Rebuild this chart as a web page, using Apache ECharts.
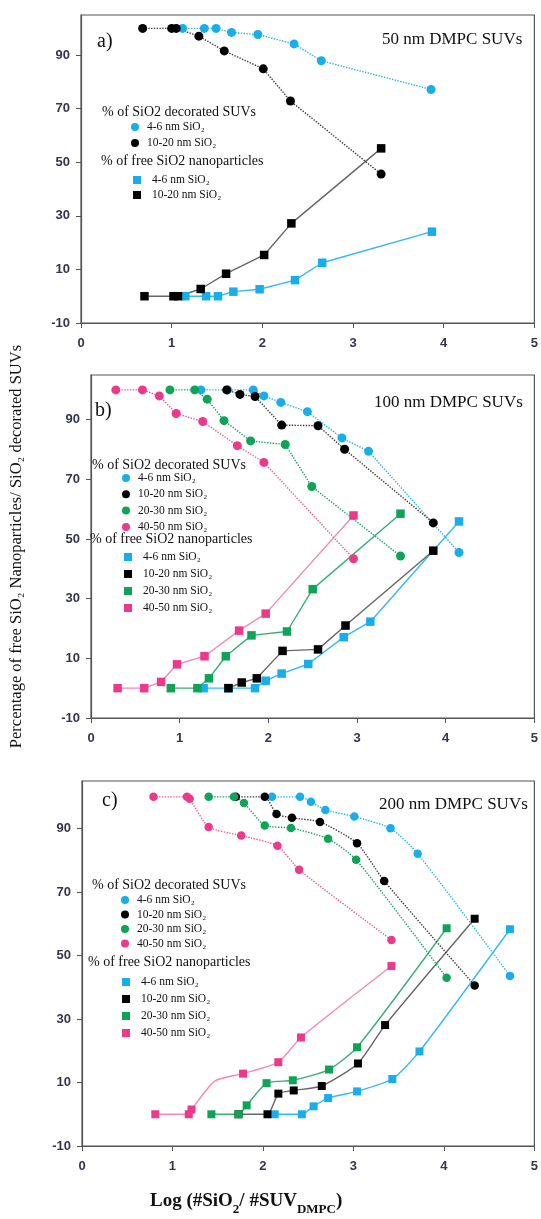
<!DOCTYPE html>
<html>
<head>
<meta charset="utf-8">
<script src="https://cdn.jsdelivr.net/npm/echarts@6/dist/echarts.min.js"></script>
<style>
html,body{margin:0;padding:0;background:#fff;}
#chart{width:541px;height:1219px;}
</style>
</head>
<body>
<div id="chart"></div>
<script>
// ---------- tick labels ----------
const xTicks = [0, 1, 2, 3, 4, 5];
const yTicks = [-10, 10, 30, 50, 70, 90];

// ---------- categories ----------
const sizes = ['4-6 nm', '10-20 nm', '20-30 nm', '40-50 nm'];
const panelTitles = ['50 nm DMPC SUVs', '100 nm DMPC SUVs', '200 nm DMPC SUVs'];
const panelLetters = ['a)', 'b)', 'c)'];

// ---------- panel a (50 nm) ----------
const a_dec_46   = [[1.12,100],[1.36,100],[1.49,100],[1.66,98.5],[1.95,97.7],[2.35,94.2],[2.65,87.9],[3.86,77.2]];
const a_dec_1020 = [[0.68,100],[1.00,100],[1.05,100],[1.30,97.1],[1.58,91.6],[2.01,84.9],[2.31,72.9],[3.31,45.6]];
const a_free_46   = [[1.15,0],[1.38,0],[1.51,0],[1.68,1.7],[1.97,2.6],[2.36,6.0],[2.66,12.5],[3.87,24.1]];
const a_free_1020 = [[0.70,0],[1.02,0],[1.07,0],[1.32,2.7],[1.60,8.4],[2.02,15.4],[2.32,27.2],[3.31,55.2]];

// ---------- panel b (100 nm) ----------
const b_dec_46   = [[1.24,100],[1.54,100],[1.83,100],[1.95,98],[2.14,95.8],[2.44,92.7],[2.83,83.9],[3.13,79.4],[4.15,45.5]];
const b_dec_1020 = [[1.53,100],[1.68,98.5],[1.85,97.8],[2.15,88.2],[2.56,88],[2.86,80.1],[3.86,55.4]];
const b_dec_2030 = [[0.89,100],[1.17,100],[1.31,96.9],[1.50,89.7],[1.80,82.9],[2.19,81.7],[2.49,67.6],[3.49,44.3]];
const b_dec_4050 = [[0.28,100],[0.58,100],[0.77,98],[0.96,92.1],[1.26,89.4],[1.65,81.3],[1.95,75.7],[2.96,43.4]];
const b_free_46   = [[1.27,0],[1.55,0],[1.85,0],[1.97,2.5],[2.15,4.9],[2.45,8.1],[2.85,17.1],[3.15,22.3],[4.15,55.9]];
const b_free_1020 = [[1.55,0],[1.70,1.9],[1.87,3.3],[2.16,12.5],[2.56,13],[2.87,21],[3.86,46.1]];
const b_free_2030 = [[0.90,0],[1.20,0],[1.33,3.3],[1.52,10.7],[1.81,17.7],[2.21,19],[2.50,33.2],[3.49,58.5]];
const b_free_4050 = [[0.30,0],[0.60,0],[0.79,2.1],[0.97,8],[1.28,10.7],[1.67,19.3],[1.97,25],[2.96,57.9]];

// ---------- panel c (200 nm) ----------
const c_dec_46   = [[2.10,100],[2.41,100],[2.53,98.5],[2.69,95.9],[3.01,93.8],[3.41,90.1],[3.71,82.1],[4.73,43.6]];
const c_dec_1020 = [[1.70,100],[2.02,100],[2.15,94.6],[2.32,93.4],[2.63,92.1],[3.04,85.4],[3.34,73.5],[4.34,40.6]];
const c_dec_2030 = [[1.40,100],[1.68,100],[1.79,98.1],[2.02,91],[2.31,90.2],[2.72,86.8],[3.03,80.2],[4.03,43]];
const c_dec_4050 = [[0.79,100],[1.16,100],[1.19,99.4],[1.40,90.5],[1.76,87.8],[2.16,84.6],[2.40,77],[3.42,54.9]];
const c_free_46   = [[2.13,0],[2.43,0],[2.56,2.5],[2.72,5.1],[3.04,7.2],[3.43,11.1],[3.73,19.8],[4.73,58.3]];
const c_free_1020 = [[1.73,0],[2.05,0],[2.17,6.5],[2.34,7.5],[2.65,8.9],[3.05,16],[3.35,28.1],[4.34,61.6]];
const c_free_2030 = [[1.43,0],[1.73,0],[1.82,2.8],[2.04,9.8],[2.33,10.7],[2.73,14.1],[3.04,21.1],[4.03,58.6]];
const c_free_4050 = [[0.81,0],[1.18,0],[1.21,1.5],[1.47,10.5],[1.78,12.8],[2.17,16.4],[2.42,24.2],[3.42,46.7]];
const c_free_4050_noMarker = [3];

// ---------- styling ----------
const markerColor = ['#19aee9', '#000000', '#0ea356', '#ec3a8a'];
const dotLineColor = ['#2ab3ea', '#3a3a3a', '#1e9e62', '#ef5a9c'];
const solidLineColor = ['#36b9ee', '#666666', '#3aad78', '#f488b9'];
const serif = "'Liberation Serif', 'DejaVu Serif', serif";
const sans = "'Liberation Sans', Arial, sans-serif";

const grids = [
  {left: 81, right: 4, top: 15, height: 308},
  {left: 83, right: 1, top: 375, height: 343},
  {left: 82, right: 2, top: 781, height: 365}
];

const panels = [
  {dec: [a_dec_46, a_dec_1020], free: [a_free_46, a_free_1020], smooth: false, sym: 8.5},
  {dec: [b_dec_46, b_dec_1020, b_dec_2030, b_dec_4050], free: [b_free_46, b_free_1020, b_free_2030, b_free_4050], smooth: false, sym: 8.5},
  {dec: [c_dec_46, c_dec_1020, c_dec_2030, c_dec_4050], free: [c_free_46, c_free_1020, c_free_2030, c_free_4050], smooth: 0.2, sym: 8}
];

const series = [];
panels.forEach((p, gi) => {
  p.free.forEach((d, k) => {
    series.push({
      type: 'line', name: 'free ' + sizes[k], xAxisIndex: gi, yAxisIndex: gi,
      data: d.map((pt, i) => (gi === 2 && k === 3 && c_free_4050_noMarker.includes(i)) ? {value: pt, symbolSize: 0} : pt),
      symbol: 'rect', symbolSize: p.sym, smooth: p.smooth,
      itemStyle: {color: markerColor[k]},
      lineStyle: {color: solidLineColor[k], width: 1.4, type: 'solid'},
      emphasis: {disabled: true}, z: 2
    });
  });
  p.dec.forEach((d, k) => {
    series.push({
      type: 'line', name: 'dec ' + sizes[k], xAxisIndex: gi, yAxisIndex: gi,
      data: d, symbol: 'circle', symbolSize: p.sym + 0.5, smooth: p.smooth,
      itemStyle: {color: markerColor[k]},
      lineStyle: {color: dotLineColor[k], width: 1.4, type: 'dotted'},
      emphasis: {disabled: true}, z: 3
    });
  });
});

const xAxes = grids.map((g, i) => ({
  type: 'value', gridIndex: i, min: xTicks[0], max: xTicks[xTicks.length - 1], interval: 1,
  axisLine: {show: true, onZero: false, lineStyle: {color: '#555', width: 1.2}},
  axisTick: {show: true, length: 5, lineStyle: {color: '#555'}},
  axisLabel: {margin: 14, color: '#34344e', fontFamily: sans, fontWeight: 'bold', fontSize: 13},
  splitLine: {show: false}
}));

const yAxes = grids.map((g, i) => ({
  type: 'value', gridIndex: i, min: -10, max: 105,
  axisLine: {show: true, onZero: false, lineStyle: {color: '#555', width: 1.2}},
  axisTick: {show: true, length: 5, customValues: yTicks, lineStyle: {color: '#555'}},
  axisLabel: {margin: 11, customValues: yTicks, color: '#34344e', fontFamily: sans, fontWeight: 'bold', fontSize: 13},
  splitLine: {show: false},
  name: i === 1 ? 'Percentage of free SiO\u2082 Nanoparticles/ SiO\u2082 decorated SUVs' : '',
  nameLocation: 'middle', nameRotate: 90, nameGap: 66,
  nameTextStyle: {fontFamily: serif, fontSize: 16.5, color: '#111'}
}));

const legendLayout = [
  {h1: [102, 105], l1: [131, 120, 2], h2: [101, 154], l2: [133, 173, 1]},
  {h1: [92, 458], l1: [122, 471, 2.3], h2: [90, 532], l2: [124, 550, 3]},
  {h1: [92, 878], l1: [121, 893, 0.5], h2: [88, 955], l2: [122, 975, 3]}
];

const titles = [];
const legends = [];
panels.forEach((p, gi) => {
  const L = legendLayout[gi];
  titles.push({text: panelLetters[gi], left: [97, 95, 102][gi], top: [32, 401, 791][gi], padding: 0,
    textStyle: {fontFamily: serif, fontSize: 20, fontWeight: 'normal', color: '#111'}});
  titles.push({text: panelTitles[gi], left: [382, 374, 379][gi], top: [31, 394, 796][gi], padding: 0,
    textStyle: {fontFamily: serif, fontSize: 17, fontWeight: 'normal', color: '#111'}});
  titles.push({text: '% of SiO2 decorated SUVs', left: L.h1[0], top: L.h1[1], padding: 0,
    textStyle: {fontFamily: serif, fontSize: 14, fontWeight: 'normal', color: '#111'}});
  titles.push({text: '% of free SiO2 nanoparticles', left: L.h2[0], top: L.h2[1], padding: 0,
    textStyle: {fontFamily: serif, fontSize: 14, fontWeight: 'normal', color: '#111'}});
  const n = p.dec.length;
  legends.push({
    orient: 'vertical', left: L.l1[0], top: L.l1[1], padding: 0, itemGap: L.l1[2],
    itemWidth: 8, itemHeight: 8, icon: 'circle', selectedMode: false,
    data: sizes.slice(0, n).map(s => 'dec ' + s),
    formatter: nm => nm.replace(/^dec /, '') + ' SiO\u2082',
    textStyle: {fontFamily: serif, fontSize: 11.5, color: '#111', lineHeight: 14, padding: [0, 0, 0, 3]}
  });
  legends.push({
    orient: 'vertical', left: L.l2[0], top: L.l2[1], padding: 0, itemGap: L.l2[2],
    itemWidth: 8, itemHeight: 8, icon: 'rect', selectedMode: false,
    data: sizes.slice(0, n).map(s => 'free ' + s),
    formatter: nm => nm.replace(/^free /, '') + ' SiO\u2082',
    textStyle: {fontFamily: serif, fontSize: 11.5, color: '#111', lineHeight: 14, padding: [0, 0, 0, 6]}
  });
});

titles.push({
  text: '{b|Log (#SiO}{s|2}{b|/ #SUV}{s|DMPC}{b|)}', left: 150, top: 1192, padding: 0,
  textStyle: {
    rich: {
      b: {fontFamily: serif, fontWeight: 'bold', fontSize: 19, color: '#111', lineHeight: 24, verticalAlign: 'top'},
      s: {fontFamily: serif, fontWeight: 'bold', fontSize: 13, color: '#111', lineHeight: 14, verticalAlign: 'bottom'}
    }
  }
});

const chart = echarts.init(document.getElementById('chart'), null, {renderer: 'canvas'});
chart.setOption({
  backgroundColor: '#fff',
  animation: false,
  title: titles,
  legend: legends,
  grid: grids.map(g => Object.assign({show: true, borderColor: '#555', borderWidth: 1.2, backgroundColor: 'transparent'}, g)),
  xAxis: xAxes,
  yAxis: yAxes,
  series: series
});
</script>
</body>
</html>
